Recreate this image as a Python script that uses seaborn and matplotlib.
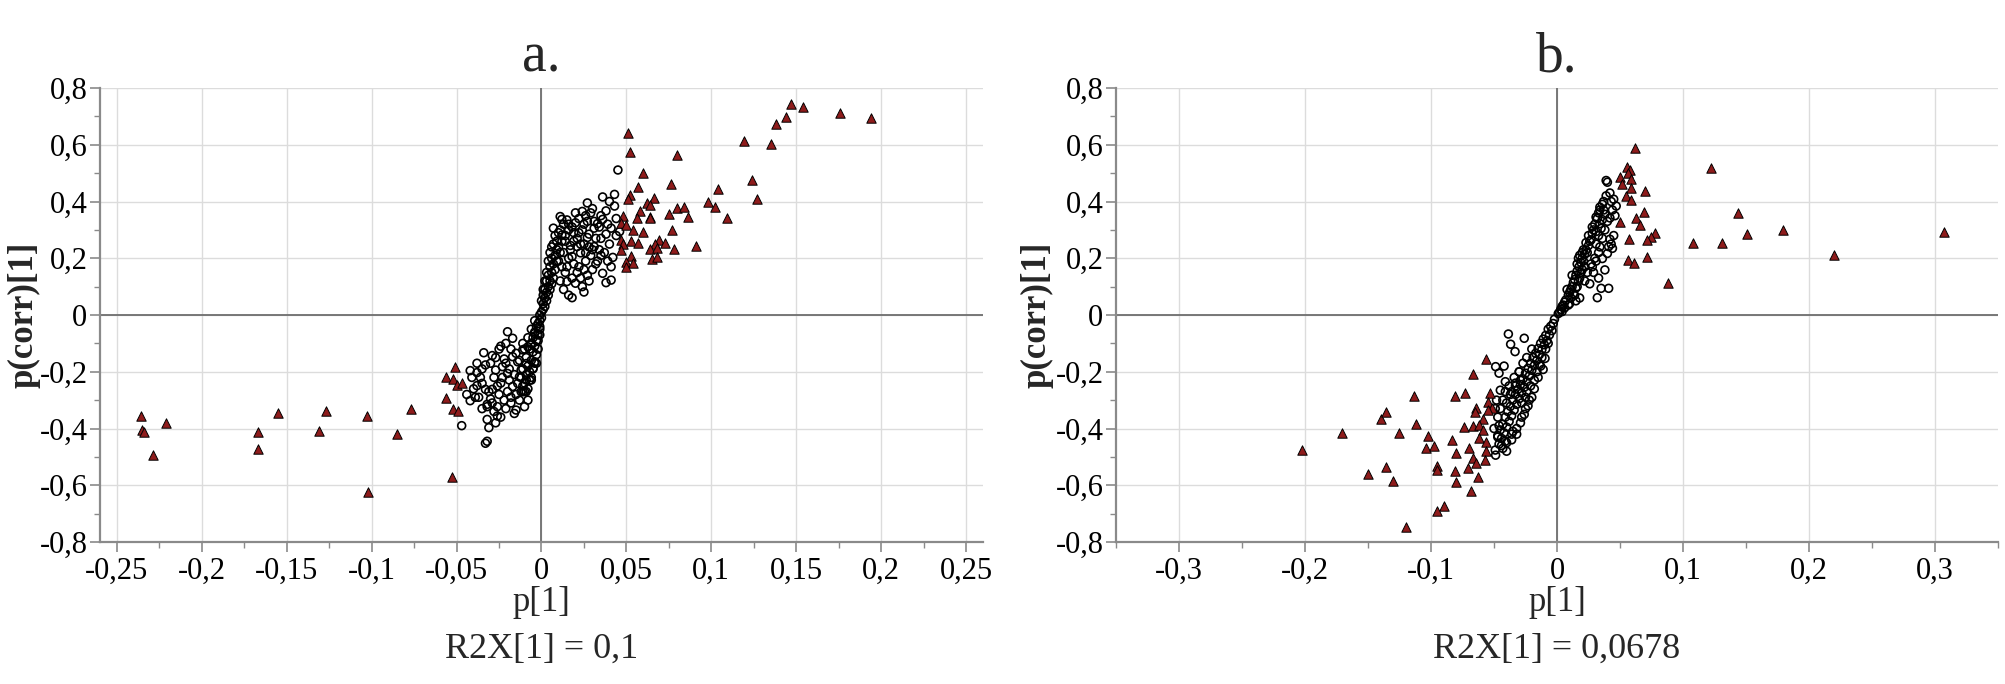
import matplotlib
matplotlib.use("Agg")
import matplotlib.pyplot as plt
import pandas as pd
import seaborn as sns
from matplotlib.ticker import FixedLocator, MultipleLocator

# ---- panel a: circles (non-significant variables) ----
a_circle_x = [
    -0.010, -0.009, -0.008, -0.009, -0.007, -0.006, -0.007, -0.005, -0.006, -0.004,
    -0.005, -0.003, -0.004, -0.002, -0.003, -0.002, -0.001, -0.001, 0.000, 0.000,
    0.001, 0.001, 0.002, 0.002, 0.003, 0.003, 0.004, 0.004, 0.005, 0.005,
    0.006, 0.006, 0.007, 0.007, 0.008, 0.008, 0.009, 0.010, 0.011, 0.012,
    -0.011, -0.012, -0.013, -0.008, -0.006, -0.004, -0.002, 0.002, 0.004, 0.005,
    0.003, -0.010, -0.011, -0.008, -0.006, -0.004, 0.001, 0.006, 0.009, 0.010,
    0.003, 0.005, 0.007, 0.008, 0.011, 0.013, 0.002, 0.000, -0.001, -0.002,
    -0.003, -0.005, -0.007, -0.009, -0.011, -0.012, -0.003, 0.004, 0.006, 0.001,
    -0.001,
    0.045, 0.043, 0.036, 0.027, 0.043, 0.038, 0.011, 0.012, 0.007, 0.012,
    0.036, 0.033, 0.031, 0.041, 0.035, 0.040, 0.046, 0.031, 0.027, 0.023,
    0.021, 0.018, 0.042, 0.041, 0.036, 0.038, 0.041, 0.018, 0.025, 0.020,
    0.015, 0.024, 0.026, 0.029, 0.022, 0.020, 0.016, 0.019, 0.024, 0.028,
    0.014, 0.017, 0.013, 0.016, 0.019, 0.022, 0.026, 0.029, 0.033, 0.030,
    0.027, 0.023, 0.012, 0.014, 0.011, 0.013, 0.016, 0.010, 0.009, 0.034,
    0.038, 0.035, 0.031, 0.025, 0.021, 0.018, 0.015, 0.028, 0.037, 0.032,
    0.030, 0.027, 0.025, 0.039, 0.044, 0.040, 0.034, 0.022, 0.019, 0.023,
    0.026, 0.030, 0.035, 0.032, 0.039, 0.044, 0.017, 0.015, 0.021, 0.024,
    0.018, 0.025, 0.028, 0.014, 0.016, 0.020,
    -0.020, -0.021, -0.017, -0.034, -0.029, -0.038, -0.042, -0.038, -0.033, -0.035,
    -0.038, -0.033, -0.029, -0.042, -0.037, -0.032, -0.032, -0.026, -0.030, -0.026,
    -0.032, -0.031, -0.047, -0.033, -0.032, -0.010, -0.016, -0.015, -0.010, -0.027,
    -0.023, -0.020, -0.019, -0.017, -0.014, -0.013, -0.012, -0.009, -0.006, -0.005,
    -0.004, -0.009, -0.014, -0.017, -0.015, -0.011, -0.008, -0.006, -0.004, -0.001,
    -0.025, -0.022, -0.020, -0.024, -0.028, -0.022, -0.025, -0.036, -0.040, -0.044,
    -0.018, -0.013, -0.035, -0.028,
    -0.015, -0.018, -0.021, -0.024, -0.027, -0.029, -0.031, -0.026, -0.023, -0.021,
    -0.019, -0.016, -0.011, -0.008, -0.039, -0.041, -0.035, -0.030, -0.027, -0.024,
    -0.018,
]
a_circle_y = [
    -0.24, -0.21, -0.18, -0.15, -0.20, -0.16, -0.12, -0.13, -0.10, -0.11,
    -0.08, -0.09, -0.06, -0.07, -0.04, -0.03, -0.05, -0.02, -0.01, 0.01,
    0.02, 0.04, 0.03, 0.06, 0.05, 0.08, 0.07, 0.10, 0.09, 0.12,
    0.11, 0.15, 0.13, 0.18, 0.16, 0.21, 0.19, 0.24, 0.22, 0.26,
    -0.19, -0.22, -0.16, -0.26, -0.22, -0.17, -0.12, 0.09, 0.14, 0.17,
    0.12, -0.12, -0.10, -0.08, -0.05, -0.02, 0.07, 0.20, 0.26, 0.29,
    0.15, 0.22, 0.25, 0.28, 0.30, 0.32, 0.12, 0.05, 0.00, -0.09,
    -0.14, -0.19, -0.23, -0.27, -0.25, -0.27, -0.17, 0.19, 0.24, 0.09,
    -0.07,
    0.511, 0.425, 0.416, 0.395, 0.384, 0.367, 0.347, 0.337, 0.306, 0.282,
    0.337, 0.322, 0.306, 0.306, 0.270, 0.250, 0.294, 0.241, 0.273, 0.219,
    0.241, 0.206, 0.203, 0.170, 0.147, 0.114, 0.123, 0.061, 0.081, 0.112,
    0.118, 0.365, 0.350, 0.360, 0.340, 0.325, 0.300, 0.290, 0.300, 0.285,
    0.260, 0.245, 0.220, 0.200, 0.180, 0.170, 0.190, 0.210, 0.190, 0.160,
    0.140, 0.130, 0.170, 0.150, 0.120, 0.090, 0.070, 0.190, 0.230, 0.230,
    0.285, 0.350, 0.330, 0.250, 0.270, 0.310, 0.335, 0.240, 0.220, 0.270,
    0.375, 0.330, 0.320, 0.320, 0.340, 0.400, 0.310, 0.290, 0.260, 0.250,
    0.220, 0.230, 0.210, 0.180, 0.190, 0.280, 0.230, 0.170, 0.150, 0.100,
    0.130, 0.160, 0.120, 0.280, 0.320, 0.360,
    -0.059, -0.100, -0.082, -0.133, -0.143, -0.170, -0.196, -0.203, -0.176, -0.241,
    -0.249, -0.262, -0.262, -0.302, -0.290, -0.315, -0.323, -0.323, -0.296, -0.356,
    -0.368, -0.397, -0.390, -0.452, -0.445, -0.323, -0.347, -0.335, -0.270, -0.194,
    -0.182, -0.206, -0.229, -0.252, -0.241, -0.218, -0.194, -0.229, -0.229, -0.188,
    -0.165, -0.171, -0.165, -0.147, -0.135, -0.123, -0.112, -0.100, -0.065, -0.041,
    -0.280, -0.300, -0.270, -0.240, -0.220, -0.155, -0.120, -0.220, -0.260, -0.280,
    -0.290, -0.300, -0.330, -0.340,
    -0.280, -0.310, -0.330, -0.360, -0.380, -0.310, -0.270, -0.250, -0.220, -0.170,
    -0.190, -0.210, -0.270, -0.300, -0.290, -0.220, -0.190, -0.170, -0.150, -0.110,
    -0.120,
]

# ---- panel a: triangles (selected variables) ----
a_tri_x = [
    0.051, 0.052, 0.080, 0.119, 0.135, 0.138, 0.144, 0.147, 0.154, 0.176,
    0.194, 0.060, 0.057, 0.076, 0.124, 0.127, 0.104, 0.098, 0.102, 0.109,
    0.052, 0.051, 0.062, 0.066, 0.064, 0.058, 0.080, 0.084, 0.086, 0.075,
    0.064, 0.064, 0.048, 0.056, 0.047, 0.050, 0.054, 0.060, 0.077, 0.047,
    0.048, 0.053, 0.057, 0.069, 0.073, 0.067, 0.064, 0.068, 0.078, 0.091,
    0.047, 0.053, 0.050, 0.054, 0.050, 0.065, 0.068,
    -0.236, -0.235, -0.234, -0.221, -0.229, -0.167, -0.167, -0.155, -0.127, -0.131,
    -0.103, -0.102, -0.085, -0.077, -0.056, -0.051, -0.052, -0.050, -0.047, -0.056,
    -0.052, -0.049, -0.053,
]
a_tri_y = [
    0.640, 0.573, 0.564, 0.612, 0.603, 0.674, 0.699, 0.744, 0.733, 0.713,
    0.694, 0.499, 0.451, 0.461, 0.476, 0.409, 0.443, 0.398, 0.380, 0.343,
    0.422, 0.408, 0.396, 0.414, 0.388, 0.367, 0.376, 0.380, 0.347, 0.355,
    0.347, 0.341, 0.350, 0.341, 0.325, 0.317, 0.300, 0.291, 0.300, 0.264,
    0.250, 0.261, 0.253, 0.264, 0.253, 0.250, 0.234, 0.237, 0.234, 0.244,
    0.229, 0.209, 0.188, 0.182, 0.170, 0.199, 0.206,
    -0.356, -0.407, -0.412, -0.379, -0.492, -0.413, -0.472, -0.347, -0.338, -0.410,
    -0.356, -0.624, -0.418, -0.333, -0.220, -0.184, -0.227, -0.247, -0.239, -0.294,
    -0.331, -0.337, -0.570,
]

# ---- panel b: circles ----
b_circle_x = [
    0.039, 0.040, 0.045, 0.047, 0.043, 0.037, 0.038, 0.036, 0.042, 0.034,
    0.035, 0.031, 0.028, 0.033, 0.027, 0.042, 0.041, 0.044, 0.040, 0.036,
    0.038, 0.033, 0.035, 0.041, 0.032, 0.023, 0.025, 0.022, 0.020, 0.019,
    0.0175, 0.021, 0.016, 0.015, 0.014, 0.012, 0.013, 0.011, 0.010, 0.009,
    0.007, 0.006, 0.005, 0.004, 0.003, 0.002, 0.001, 0.026, 0.024, 0.029,
    0.030, 0.032, 0.033, 0.034, 0.036, 0.018, 0.020, 0.022, 0.026, 0.029,
    0.030, 0.027, 0.016, 0.014, 0.010, 0.031, 0.034, 0.018, 0.015, 0.008,
    0.012, 0.017, 0.021,
    0.020, 0.023, 0.025, 0.028, 0.031, 0.034, 0.037, 0.039, 0.042, 0.044,
    0.046, 0.040, 0.038, 0.036, 0.033, 0.031, 0.028, 0.024, 0.022, 0.019,
    0.017, 0.015, 0.013, 0.011, 0.009, 0.006, 0.004, 0.016, 0.018, 0.043,
    0.045,
    -0.002, -0.003, -0.005, -0.004, -0.007, -0.006, -0.009, -0.008, -0.011, -0.010,
    -0.013, -0.012, -0.015, -0.014, -0.017, -0.016, -0.019, -0.018, -0.021, -0.020,
    -0.023, -0.022, -0.025, -0.024, -0.027, -0.026, -0.029, -0.028, -0.031, -0.030,
    -0.033, -0.032, -0.035, -0.034, -0.037, -0.036, -0.039, -0.038, -0.041, -0.040,
    -0.043, -0.042, -0.045, -0.044, -0.047, -0.046,
    -0.030, -0.034, -0.038, -0.041, -0.043, -0.045, -0.047, -0.046, -0.036, -0.033,
    -0.029, -0.024, -0.021, -0.018, -0.016, -0.020, -0.023, -0.026, -0.029, -0.032,
    -0.036, -0.041, -0.043, -0.040, -0.035, -0.028, -0.025, -0.012, -0.014, -0.009,
    -0.007,
    -0.0386, -0.026, -0.0368, -0.0333, -0.011, -0.0095, -0.0487, -0.042, -0.046, -0.041,
    -0.045, -0.048, -0.049, -0.050, -0.0487, -0.049, -0.047, -0.044, -0.040, -0.036,
    -0.032, -0.028, -0.025, -0.022, -0.018, -0.015, -0.013, -0.030, -0.033, -0.037,
    -0.040, -0.027, -0.020, -0.024,
]
b_circle_y = [
    0.474, 0.468, 0.408, 0.384, 0.400, 0.370, 0.355, 0.336, 0.342, 0.322,
    0.305, 0.294, 0.288, 0.280, 0.265, 0.267, 0.241, 0.235, 0.217, 0.199,
    0.159, 0.130, 0.094, 0.094, 0.061, 0.229, 0.245, 0.214, 0.200, 0.185,
    0.170, 0.190, 0.155, 0.140, 0.125, 0.100, 0.115, 0.090, 0.080, 0.070,
    0.053, 0.045, 0.035, 0.030, 0.020, 0.010, 0.005, 0.260, 0.220, 0.300,
    0.320, 0.340, 0.360, 0.380, 0.390, 0.130, 0.160, 0.120, 0.110, 0.150,
    0.200, 0.180, 0.100, 0.070, 0.040, 0.250, 0.240, 0.060, 0.050, 0.090,
    0.140, 0.200, 0.230,
    0.220, 0.255, 0.280, 0.310, 0.345, 0.370, 0.400, 0.420, 0.430, 0.370,
    0.350, 0.330, 0.300, 0.270, 0.220, 0.190, 0.170, 0.150, 0.170, 0.150,
    0.120, 0.095, 0.075, 0.060, 0.035, 0.025, 0.012, 0.180, 0.210, 0.250,
    0.280,
    -0.015, -0.030, -0.040, -0.055, -0.050, -0.070, -0.072, -0.090, -0.085, -0.105,
    -0.100, -0.122, -0.118, -0.140, -0.135, -0.160, -0.150, -0.178, -0.170, -0.195,
    -0.188, -0.215, -0.205, -0.235, -0.225, -0.255, -0.245, -0.275, -0.262, -0.295,
    -0.280, -0.315, -0.300, -0.335, -0.322, -0.355, -0.340, -0.375, -0.360, -0.395,
    -0.385, -0.415, -0.405, -0.435, -0.425, -0.455,
    -0.200, -0.220, -0.250, -0.270, -0.300, -0.330, -0.360, -0.390, -0.270, -0.250,
    -0.230, -0.270, -0.250, -0.230, -0.200, -0.290, -0.320, -0.350, -0.380, -0.420,
    -0.440, -0.445, -0.470, -0.480, -0.410, -0.310, -0.290, -0.150, -0.175, -0.120,
    -0.100,
    -0.067, -0.082, -0.103, -0.129, -0.192, -0.153, -0.182, -0.180, -0.205, -0.235,
    -0.265, -0.300, -0.330, -0.400, -0.494, -0.476, -0.430, -0.460, -0.450, -0.420,
    -0.400, -0.360, -0.330, -0.300, -0.260, -0.220, -0.180, -0.200, -0.240, -0.280,
    -0.310, -0.170, -0.120, -0.150,
]

# ---- panel b: triangles ----
b_tri_x = [
    0.0616, 0.0558, 0.058, 0.0566, 0.0497, 0.0587, 0.0513, 0.0585, 0.070, 0.0545,
    0.059, 0.069, 0.0627, 0.0497, 0.066, 0.0775, 0.0746, 0.0712, 0.0574, 0.0712,
    0.056, 0.0608, 0.0884, 0.1225, 0.144, 0.151, 0.131, 0.108, 0.179, 0.220,
    0.307,
    -0.0566, -0.0667, -0.1135, -0.0812, -0.073, -0.0534, -0.064, -0.065, -0.0545, -0.0513,
    -0.055, -0.112, -0.0585, -0.0738, -0.0667, -0.062, -0.0585, -0.125, -0.1024, -0.0836,
    -0.062, -0.0566, -0.104, -0.098, -0.070, -0.056, -0.080, -0.0667, -0.064, -0.0574,
    -0.095, -0.095, -0.0812, -0.071, -0.063, -0.080, -0.0685, -0.0897, -0.095, -0.1196,
    -0.202, -0.171, -0.150, -0.136, -0.130, -0.140, -0.136,
]
b_tri_y = [
    0.588, 0.523, 0.511, 0.502, 0.488, 0.479, 0.461, 0.447, 0.438, 0.421,
    0.404, 0.364, 0.343, 0.326, 0.317, 0.290, 0.276, 0.264, 0.267, 0.206,
    0.194, 0.184, 0.112, 0.517, 0.361, 0.286, 0.255, 0.255, 0.300, 0.210,
    0.292,
    -0.156, -0.208, -0.286, -0.286, -0.276, -0.274, -0.326, -0.341, -0.306, -0.329,
    -0.335, -0.384, -0.368, -0.396, -0.391, -0.388, -0.405, -0.417, -0.427, -0.441,
    -0.435, -0.447, -0.470, -0.461, -0.470, -0.478, -0.488, -0.505, -0.521, -0.511,
    -0.532, -0.546, -0.551, -0.540, -0.572, -0.587, -0.620, -0.673, -0.691, -0.746,
    -0.476, -0.415, -0.559, -0.535, -0.585, -0.366, -0.341,
]

panel_titles = ["a.", "b."]
r2x_labels = ["R2X[1] = 0,1", "R2X[1] = 0,0678"]
y_ticks = [-0.8, -0.6, -0.4, -0.2, 0, 0.2, 0.4, 0.6, 0.8]
a_x_ticks = [-0.25, -0.2, -0.15, -0.1, -0.05, 0, 0.05, 0.1, 0.15, 0.2, 0.25]
b_x_ticks = [-0.3, -0.2, -0.1, 0, 0.1, 0.2, 0.3]

TRI_RED = "#8e1b1b"
GRID = "#dcdcdc"
AXIS = "#8a8a8a"

sns.set_theme(style="white")
plt.rcParams["font.family"] = ["Liberation Serif", "DejaVu Serif"]


def comma(v):
    if abs(v) < 1e-9:
        return "0"
    return f"{v:g}".replace(".", ",")


def draw_panel(ax, circ_x, circ_y, tri_x, tri_y, xticks, xlim, minor, title, r2x, ylab_x):
    circ = pd.DataFrame({"p1": circ_x, "pcorr": circ_y})
    tri = pd.DataFrame({"p1": tri_x, "pcorr": tri_y})
    ax.set_axisbelow(True)
    ax.grid(True, color=GRID, linewidth=1.0, zorder=0)
    ax.axhline(0, color="#6e6e6e", linewidth=1.3, zorder=1)
    ax.axvline(0, color="#6e6e6e", linewidth=1.3, zorder=1)
    sns.scatterplot(data=circ, x="p1", y="pcorr", ax=ax, marker="o", s=32,
                    facecolor="none", edgecolor="black", linewidth=1.2, zorder=3)
    sns.scatterplot(data=tri, x="p1", y="pcorr", ax=ax, marker="^", s=46,
                    color=TRI_RED, edgecolor="black", linewidth=0.7, zorder=4)
    ax.set_xlim(*xlim)
    ax.set_ylim(-0.8, 0.8)
    ax.xaxis.set_major_locator(FixedLocator(xticks))
    ax.yaxis.set_major_locator(FixedLocator(y_ticks))
    ax.xaxis.set_minor_locator(MultipleLocator(minor))
    ax.yaxis.set_minor_locator(MultipleLocator(0.1))
    ax.set_xticklabels([comma(v) for v in xticks])
    ax.set_yticklabels([comma(v) for v in y_ticks])
    ax.tick_params(axis="both", which="major", direction="out", length=7, width=1.2,
                   color=AXIS, labelsize=22, labelcolor="black", bottom=True, left=True)
    ax.tick_params(axis="x", which="major", pad=4)
    ax.tick_params(axis="y", which="major", pad=2)
    ax.tick_params(axis="both", which="minor", direction="out", length=4, width=1.0,
                   color=AXIS, bottom=True, left=True)
    for side in ["top", "right"]:
        ax.spines[side].set_visible(False)
    for side in ["left", "bottom"]:
        ax.spines[side].set_color(AXIS)
        ax.spines[side].set_linewidth(1.6)
    ax.set_xlabel("p[1]", fontsize=25)
    ax.set_ylabel("p(corr)[1]", fontsize=25, fontweight="bold", va="center")
    ax.yaxis.set_label_coords(ylab_x, 0.5)
    ax.xaxis.set_label_coords(0.5, -0.134)
    ax.xaxis.label.set_va("center")
    ax.text(0.5, -0.236, r2x, transform=ax.transAxes, ha="center", va="center", fontsize=26)
    ax.text(0.5, 1.068, title, transform=ax.transAxes, ha="center", va="center", fontsize=40)


fig = plt.figure(figsize=(20.06, 6.84), dpi=100)
ax_a = fig.add_axes([100 / 2006, 142 / 684, 883 / 2006, 454 / 684])
ax_b = fig.add_axes([1116 / 2006, 142 / 684, 882 / 2006, 454 / 684])

draw_panel(ax_a, a_circle_x, a_circle_y, a_tri_x, a_tri_y, a_x_ticks, (-0.26, 0.26), 0.025,
           panel_titles[0], r2x_labels[0], -0.086)
draw_panel(ax_b, b_circle_x, b_circle_y, b_tri_x, b_tri_y, b_x_ticks, (-0.35, 0.35), 0.05,
           panel_titles[1], r2x_labels[1], -0.090)

fig.savefig("out.png", dpi=100)
